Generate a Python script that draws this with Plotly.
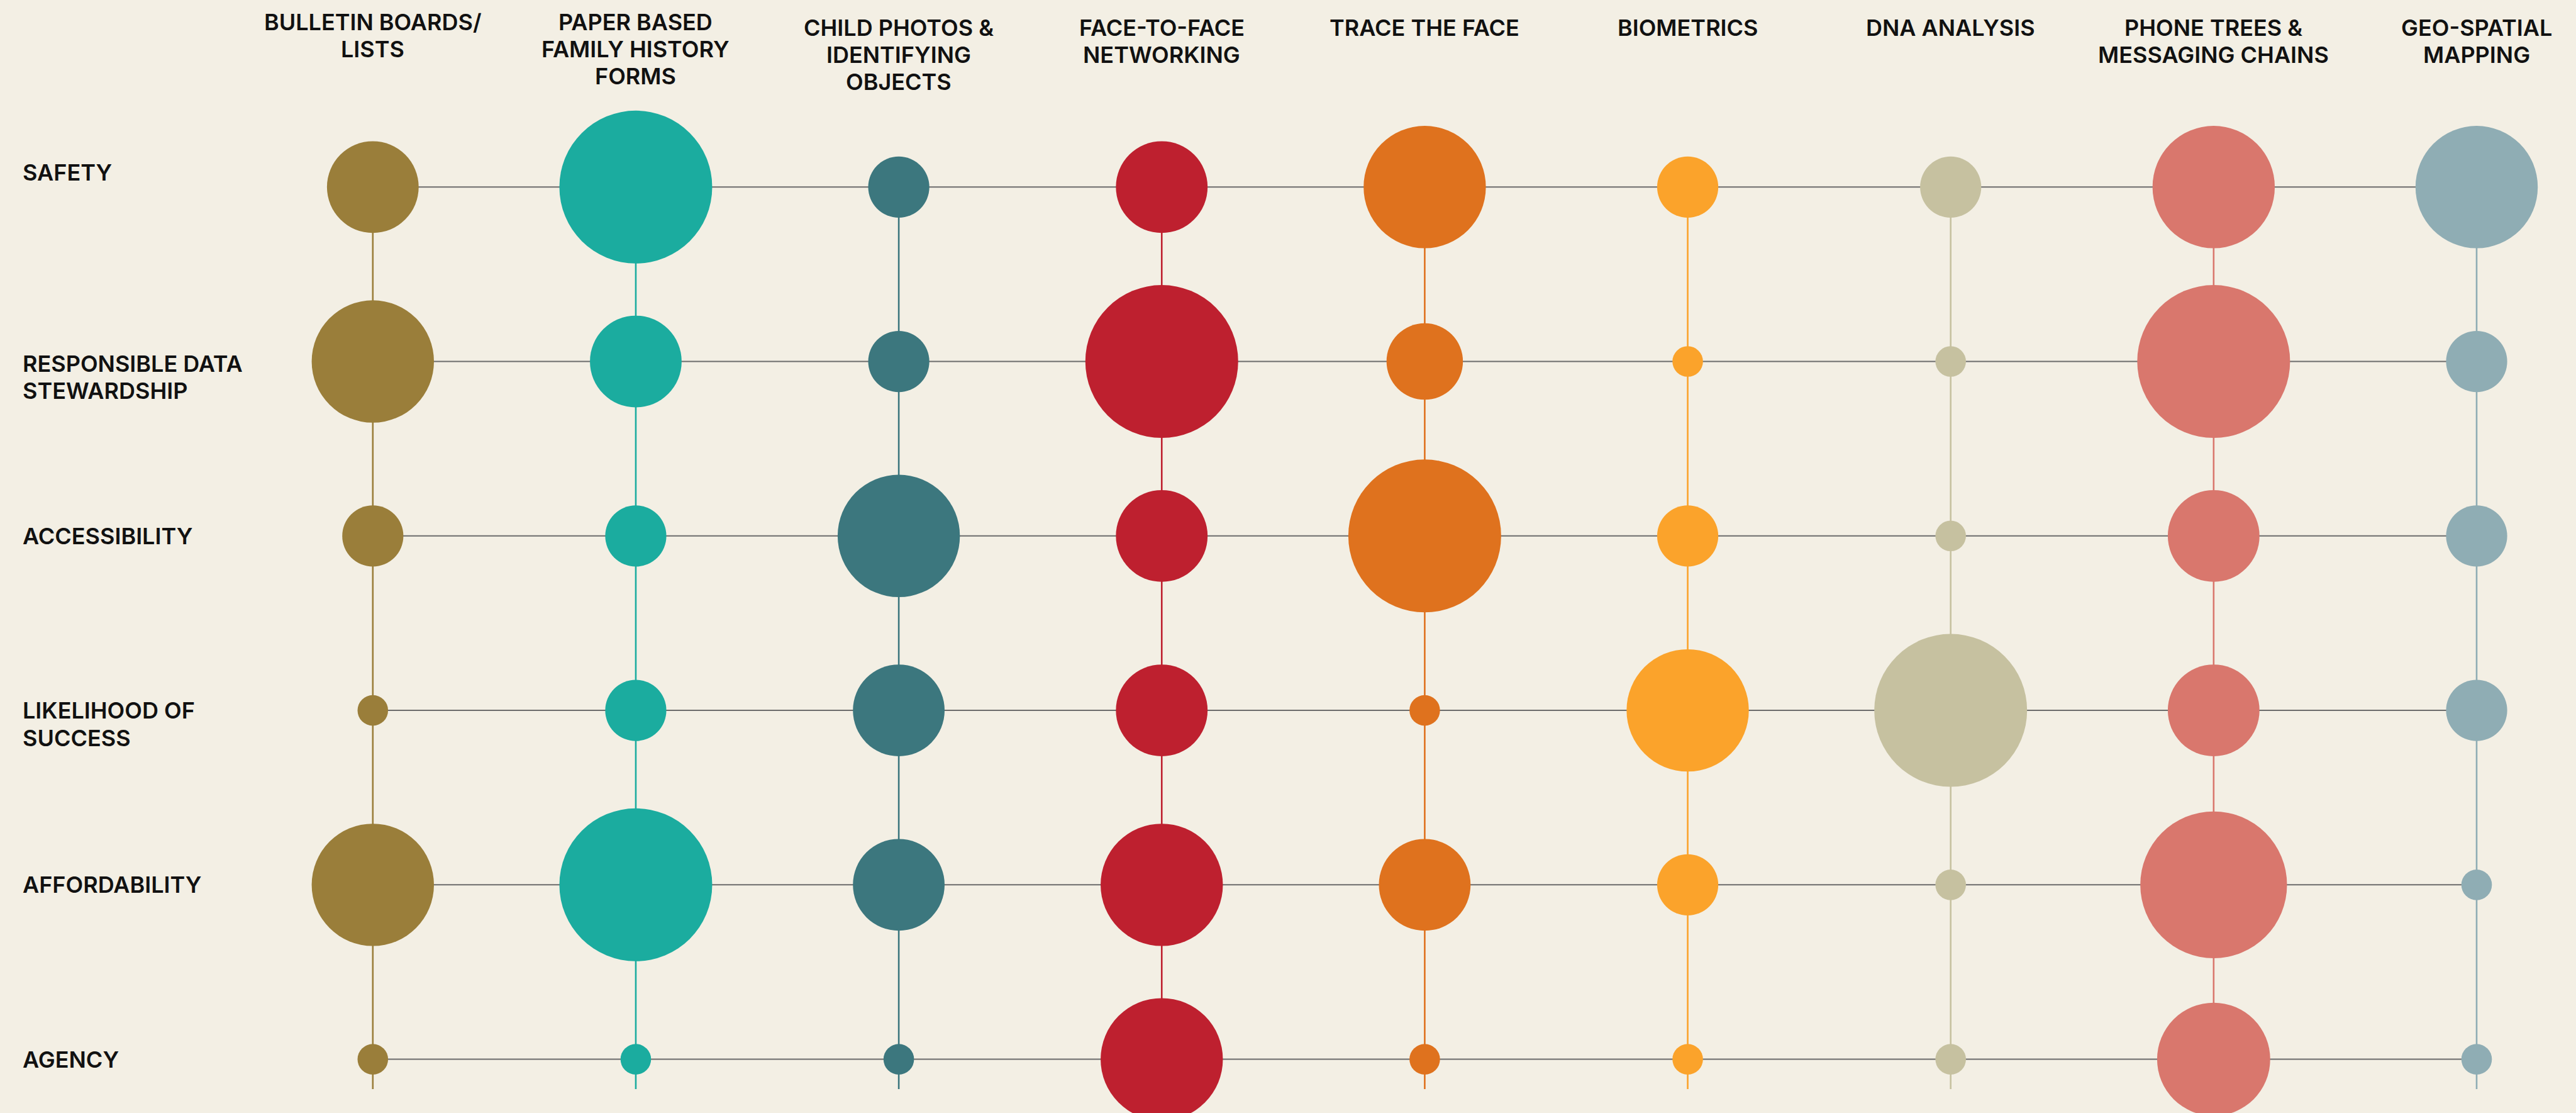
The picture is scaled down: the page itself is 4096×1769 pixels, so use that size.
import plotly.graph_objects as go

# ---------------- data ----------------
COLUMNS = [
    "BULLETIN BOARDS/<br>LISTS",
    "PAPER BASED<br>FAMILY HISTORY<br>FORMS",
    "CHILD PHOTOS &<br>IDENTIFYING<br>OBJECTS",
    "FACE-TO-FACE<br>NETWORKING",
    "TRACE THE FACE",
    "BIOMETRICS",
    "DNA ANALYSIS",
    "PHONE TREES &<br>MESSAGING CHAINS",
    "GEO-SPATIAL<br>MAPPING",
]
ROWS = [
    "SAFETY",
    "RESPONSIBLE DATA<br>STEWARDSHIP",
    "ACCESSIBILITY",
    "LIKELIHOOD OF<br>SUCCESS",
    "AFFORDABILITY",
    "AGENCY",
]

safety = [3, 5, 2, 3, 4, 2, 2, 4, 4]
responsible_data = [4, 3, 2, 5, 2.5, 1, 1, 5, 2]
accessibility = [2, 2, 4, 3, 5, 2, 1, 3, 2]
likelihood = [1, 2, 3, 3, 1, 4, 5, 3, 2]
affordability = [4, 5, 3, 4, 3, 2, 1, 4.8, 1]
agency = [1, 1, 1, 4, 1, 1, 1, 3.7, 1]

ROW_VALUES = [safety, responsible_data, accessibility, likelihood, affordability, agency]

COLORS = ["#9A7E3A", "#1BAC9F", "#3C777E", "#BE202F", "#DF721E",
          "#FBA32B", "#C6C1A0", "#D9776D", "#8FADB4"]

# ---------------- style / layout ----------------
W, H = 4096, 1769
BG = "#F3EFE4"
HLINE = "#6B6B6B"
TEXT = "#111111"
PX_PER_UNIT = 48.6          # bubble diameter (px) per value unit
FONT = "Inter"
FSIZE = 36
FWEIGHT = 600
HEAD_LINE_PX = 42.9
LABEL_LINE_PX = 43.6

X0_PX, X_LAST_PX = 592.8, 3938.0
Y0_PX, Y_LAST_PX = 297.3, 1683.6
ncol, nrow = len(COLUMNS), len(ROWS)
xs = (X_LAST_PX - X0_PX) / (ncol - 1)
ys = (Y_LAST_PX - Y0_PX) / (nrow - 1)
xrange_ = [-X0_PX / xs, (W - X0_PX) / xs]
yrange_ = [(H - Y0_PX) / ys, -Y0_PX / ys]
V_EXT = 0.171

fig = go.Figure()

# vertical coloured lines
for ci in range(ncol):
    fig.add_trace(go.Scatter(
        x=[ci, ci], y=[0, nrow - 1 + V_EXT], mode="lines",
        line=dict(color=COLORS[ci], width=2.6), hoverinfo="skip"))

# horizontal grey lines
for ri in range(nrow):
    fig.add_trace(go.Scatter(
        x=[0, ncol - 1], y=[ri, ri], mode="lines",
        line=dict(color=HLINE, width=2), hoverinfo="skip"))

# bubbles
for ci in range(ncol):
    vals = [ROW_VALUES[ri][ci] for ri in range(nrow)]
    fig.add_trace(go.Scatter(
        x=[ci] * nrow, y=list(range(nrow)), mode="markers",
        marker=dict(size=[v * PX_PER_UNIT for v in vals], sizemode="diameter",
                    sizeref=1, color=COLORS[ci], opacity=1,
                    line=dict(width=0)),
        hoverinfo="skip"))

font = dict(family=FONT, size=FSIZE, color=TEXT, weight=FWEIGHT)

# column headers (one annotation per line for exact line spacing)
HEADER_TOP_PX = [11, 11, 20, 20, 20, 20, 20, 20, 20]
for ci, label in enumerate(COLUMNS):
    for li, part in enumerate(label.split("<br>")):
        top = HEADER_TOP_PX[ci] + li * HEAD_LINE_PX
        fig.add_annotation(
            x=ci, xref="x", y=1 - top / H, yref="paper",
            text=part, showarrow=False, xanchor="center", yanchor="top",
            font=font)

# row labels
LABEL_SHIFT_PX = [23, -25, 0, -22, 0, 0]
for ri, label in enumerate(ROWS):
    parts = label.split("<br>")
    n = len(parts)
    for li, part in enumerate(parts):
        off = (li - (n - 1) / 2) * LABEL_LINE_PX
        fig.add_annotation(
            x=34 / W, xref="paper", y=ri, yref="y",
            yshift=LABEL_SHIFT_PX[ri] - off,
            text=part, showarrow=False, xanchor="left", yanchor="middle",
            font=font)

fig.update_layout(
    width=W, height=H, autosize=False,
    margin=dict(l=0, r=0, t=0, b=0, pad=0),
    paper_bgcolor=BG, plot_bgcolor=BG,
    showlegend=False, hovermode=False,
    xaxis=dict(range=xrange_, visible=False, showgrid=False, zeroline=False, fixedrange=True),
    yaxis=dict(range=yrange_, visible=False, showgrid=False, zeroline=False, fixedrange=True),
)

fig.write_html(
    "out.html",
    config={"displayModeBar": False},
    post_script="document.body.style.margin='0';document.body.style.background='%s';"
                "document.body.style.overflow='hidden';" % BG,
)
